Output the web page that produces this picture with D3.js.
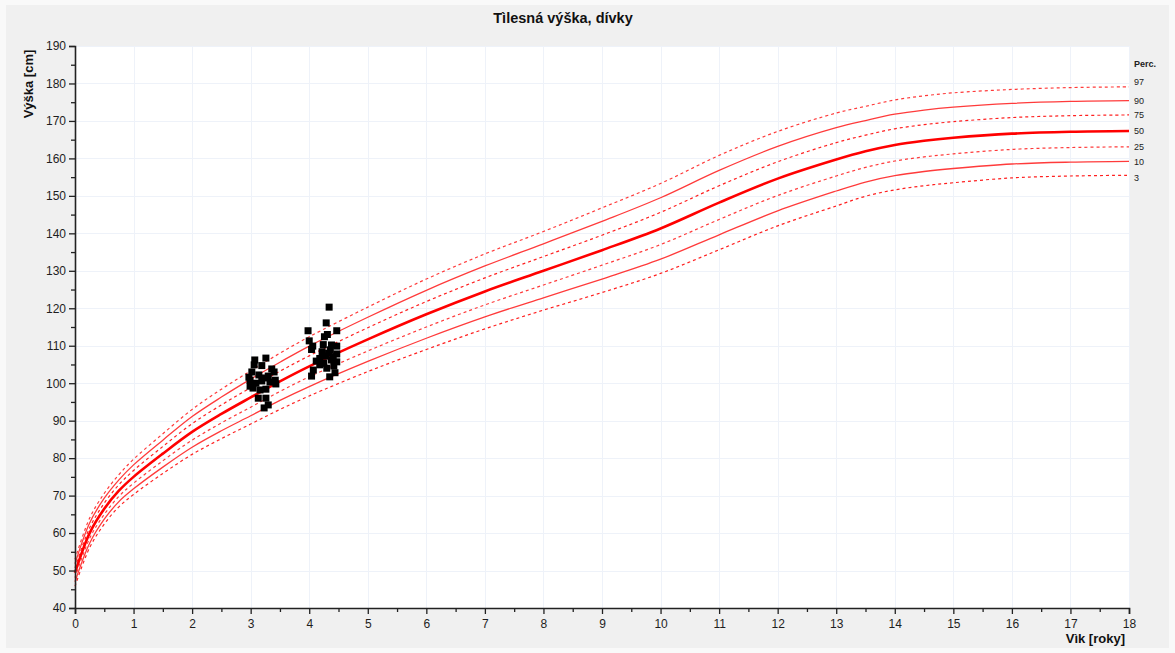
<!DOCTYPE html>
<html>
<head>
<meta charset="utf-8">
<script src="https://cdn.jsdelivr.net/npm/d3@7"></script>
<style>
  html, body { margin: 0; padding: 0; background: #f9f9f9; }
  svg { display: block; font-family: "Liberation Sans", Arial, sans-serif; }
</style>
</head>
<body>
<svg id="chart" width="1175" height="653"></svg>
<script>
// Age grid (years) of the percentile curves
const ages = [0, 0.25, 0.5, 0.75, 1, 1.5, 2, 2.5, 3, 3.5, 4, 5, 6, 7, 8, 9, 10, 11, 12, 13, 13.5, 14, 14.5, 15, 16, 17, 18];

// Height percentiles (cm)
const p97 = [53.0, 64.0, 70.6, 75.6, 79.7, 86.5, 93.0, 98.4, 103.3, 108.0, 112.4, 120.3, 127.8, 134.5, 140.5, 146.8, 153.3, 160.8, 167.2, 172.1, 173.9, 175.6, 176.7, 177.5, 178.4, 178.9, 179.1];
const p90 = [51.8, 62.7, 69.3, 74.2, 78.2, 84.8, 91.1, 96.3, 101.1, 105.6, 109.9, 117.6, 124.8, 131.3, 137.2, 143.2, 149.5, 156.8, 163.2, 168.2, 170.1, 171.8, 172.9, 173.7, 174.7, 175.2, 175.4];
const p75 = [50.7, 61.4, 68.0, 72.9, 76.7, 83.1, 89.2, 94.2, 98.8, 103.2, 107.3, 114.8, 121.8, 128.1, 133.8, 139.5, 145.6, 152.7, 159.1, 164.2, 166.2, 167.9, 169.0, 169.8, 170.9, 171.4, 171.6];
const p50 = [49.4, 60.0, 66.5, 71.3, 75.0, 81.2, 87.0, 91.8, 96.2, 100.5, 104.5, 111.7, 118.4, 124.5, 130.0, 135.5, 141.3, 148.2, 154.6, 159.7, 161.9, 163.6, 164.7, 165.5, 166.6, 167.1, 167.3];
const p25 = [48.1, 58.6, 65.0, 69.8, 73.3, 79.3, 84.8, 89.4, 93.6, 97.8, 101.7, 108.6, 115.0, 120.9, 126.2, 131.5, 137.0, 143.7, 150.1, 155.3, 157.6, 159.3, 160.4, 161.2, 162.4, 162.9, 163.1];
const p10 = [47.0, 57.3, 63.7, 68.4, 71.8, 77.6, 82.9, 87.3, 91.3, 95.4, 99.1, 105.8, 112.0, 117.7, 122.8, 127.8, 133.1, 139.6, 146.0, 151.3, 153.7, 155.4, 156.5, 157.3, 158.5, 159.0, 159.2];
const p3  = [45.8, 56.1, 62.4, 67.0, 70.3, 75.9, 81.0, 85.2, 89.1, 93.0, 96.6, 103.1, 109.0, 114.5, 119.5, 124.2, 129.3, 135.6, 142.0, 147.3, 149.9, 151.6, 152.7, 153.5, 154.8, 155.3, 155.5];

const percentileNames = ["97", "90", "75", "50", "25", "10", "3"];

// Measured children: age (years) and height (cm)
const pointAge = [
  3.07, 3.26, 3.36, 3.02, 3.14, 3.24, 2.99, 3.09, 3.19, 3.30, 3.40, 3.33, 3.43, 3.04, 3.16, 3.26, 3.13, 3.26, 3.30, 3.23, 3.06, 3.19, 2.97, 2.99, 3.42,
  4.34, 4.29, 4.47, 3.98, 4.00, 4.26, 4.31, 4.38, 4.47, 4.04, 4.06, 4.33, 4.18, 4.41, 4.47, 4.25, 4.07, 4.04, 4.35, 4.44, 4.18, 4.22, 4.28, 4.38, 4.12, 4.42, 4.30, 4.36, 4.24, 4.47
];
const pointHeight = [
  106.2, 106.7, 103.8, 103.0, 102.2, 101.4, 100.8, 100.0, 100.6, 101.9, 103.0, 100.3, 99.8, 98.7, 98.2, 98.4, 96.0, 96.0, 94.2, 93.4, 104.9, 104.7, 101.6, 99.2, 100.8,
  120.3, 116.1, 114.0, 114.0, 111.3, 112.4, 113.0, 110.2, 109.9, 109.0, 109.9, 108.0, 106.6, 107.1, 105.7, 105.3, 103.5, 101.9, 101.7, 102.8, 104.9, 108.4, 107.2, 106.2, 105.9, 104.6, 104.0, 108.9, 110.3, 107.8
];

const yMajorTicks = d3.range(40, 191, 10);
const yMinorTicks = d3.range(45, 190, 10);
const xMajorTicks = d3.range(0, 19, 1);
const xMinorTicks = d3.range(0.5, 18, 1);

const titleText = "Tìlesná výška, dívky";
const xTitle = "Vìk [roky]";
const yTitle = "Výška [cm]";
const legendTitle = "Perc.";

// ---------------------------------------------------------------
const svg = d3.select("#chart");
const W = 1175, H = 653;
const plot = { left: 75, right: 1129, top: 46, bottom: 608 };

svg.append("rect").attr("x", 6).attr("y", 5).attr("width", W - 12).attr("height", H - 10)
  .attr("fill", "#f0f0f0");

const x = d3.scaleLinear().domain([0, 18]).range([plot.left, plot.right]);
const y = d3.scaleLinear().domain([40, 190]).range([plot.bottom, plot.top]);

svg.append("rect")
  .attr("x", plot.left).attr("y", plot.top)
  .attr("width", plot.right - plot.left).attr("height", plot.bottom - plot.top)
  .attr("fill", "#ffffff");

// grid
const grid = svg.append("g").attr("stroke", "#eef2f9").attr("stroke-width", 1);
grid.selectAll("line.gx").data(xMajorTicks.slice(1)).join("line")
  .attr("x1", d => Math.round(x(d)) + 0.5).attr("x2", d => Math.round(x(d)) + 0.5)
  .attr("y1", plot.top).attr("y2", plot.bottom);
grid.selectAll("line.gy").data(yMajorTicks.slice(1)).join("line")
  .attr("y1", d => Math.round(y(d)) + 0.5).attr("y2", d => Math.round(y(d)) + 0.5)
  .attr("x1", plot.left).attr("x2", plot.right);

// percentile curves
const series = [p97, p90, p75, p50, p25, p10, p3];
const styles = {
  "97": { w: 1.2, dash: "3,3", color: "#ff3b3b" },
  "90": { w: 1.3, dash: null, color: "#ff3b3b" },
  "75": { w: 1.2, dash: "3,3", color: "#ff2020" },
  "50": { w: 2.6, dash: null, color: "#ff0000" },
  "25": { w: 1.2, dash: "3,3", color: "#ff3b3b" },
  "10": { w: 1.3, dash: null, color: "#ff3b3b" },
  "3":  { w: 1.2, dash: "3,3", color: "#ff2020" }
};
const line = d3.line()
  .x(d => x(d[0]))
  .y(d => y(d[1]))
  .curve(d3.curveCatmullRom.alpha(0.5));

const curves = svg.append("g").attr("fill", "none");
series.forEach((vals, i) => {
  const name = percentileNames[i];
  const st = styles[name];
  curves.append("path")
    .datum(ages.map((a, j) => [a, vals[j]]))
    .attr("d", line)
    .attr("stroke", st.color)
    .attr("stroke-width", st.w)
    .attr("stroke-dasharray", st.dash);
});

// measured points
svg.append("g").selectAll("rect").data(pointAge.map((a, i) => [a, pointHeight[i]])).join("rect")
  .attr("x", d => x(d[0]) - 3.5).attr("y", d => y(d[1]) - 3.5)
  .attr("width", 7).attr("height", 7)
  .attr("fill", "#000");

// axes
const tickText = "#1e1e1e";
svg.append("g").attr("transform", `translate(${plot.left},0)`)
  .call(d3.axisLeft(y).tickValues(yMajorTicks).tickSize(6).tickPadding(3).tickFormat(d3.format("d")));
svg.append("g").attr("transform", `translate(${plot.left},0)`)
  .call(d3.axisLeft(y).tickValues(yMinorTicks).tickSize(4).tickFormat(""))
  .call(g => g.select(".domain").remove());
svg.append("g").attr("transform", `translate(0,${plot.bottom})`)
  .call(d3.axisBottom(x).tickValues(xMajorTicks).tickSize(6).tickPadding(5).tickFormat(d3.format("d")));
svg.append("g").attr("transform", `translate(0,${plot.bottom})`)
  .call(d3.axisBottom(x).tickValues(xMinorTicks).tickSize(4).tickFormat(""))
  .call(g => g.select(".domain").remove());

svg.selectAll(".tick line").attr("stroke", "#222").attr("stroke-width", 1.3);
svg.selectAll(".domain").attr("stroke", "#222").attr("stroke-width", 1.6);
svg.selectAll(".tick text").attr("fill", tickText).attr("font-size", 12)
  .attr("font-family", "'Liberation Sans', Arial, sans-serif");

// titles
svg.append("text").attr("x", 563).attr("y", 23).attr("text-anchor", "middle")
  .attr("font-size", 14.5).attr("font-weight", "bold").attr("fill", "#111").text(titleText);
svg.append("text").attr("x", 1125).attr("y", 643).attr("text-anchor", "end")
  .attr("font-size", 13).attr("font-weight", "bold").attr("fill", "#111").text(xTitle);
svg.append("text").attr("transform", "translate(33,84) rotate(-90)").attr("text-anchor", "middle")
  .attr("font-size", 13).attr("font-weight", "bold").attr("fill", "#111").text(yTitle);

// end-of-curve percentile labels
svg.append("text").attr("x", 1134).attr("y", 67)
  .attr("font-size", 9).attr("font-weight", "bold").attr("fill", "#222").text(legendTitle);
const labelNudge = { "97": -5, "3": 3 };
series.forEach((vals, i) => {
  const name = percentileNames[i];
  svg.append("text")
    .attr("x", 1134)
    .attr("y", y(vals[vals.length - 1]) + (labelNudge[name] || 0))
    .attr("dy", "0.35em")
    .attr("font-size", 9).attr("fill", "#222").text(name);
});
</script>
</body>
</html>
